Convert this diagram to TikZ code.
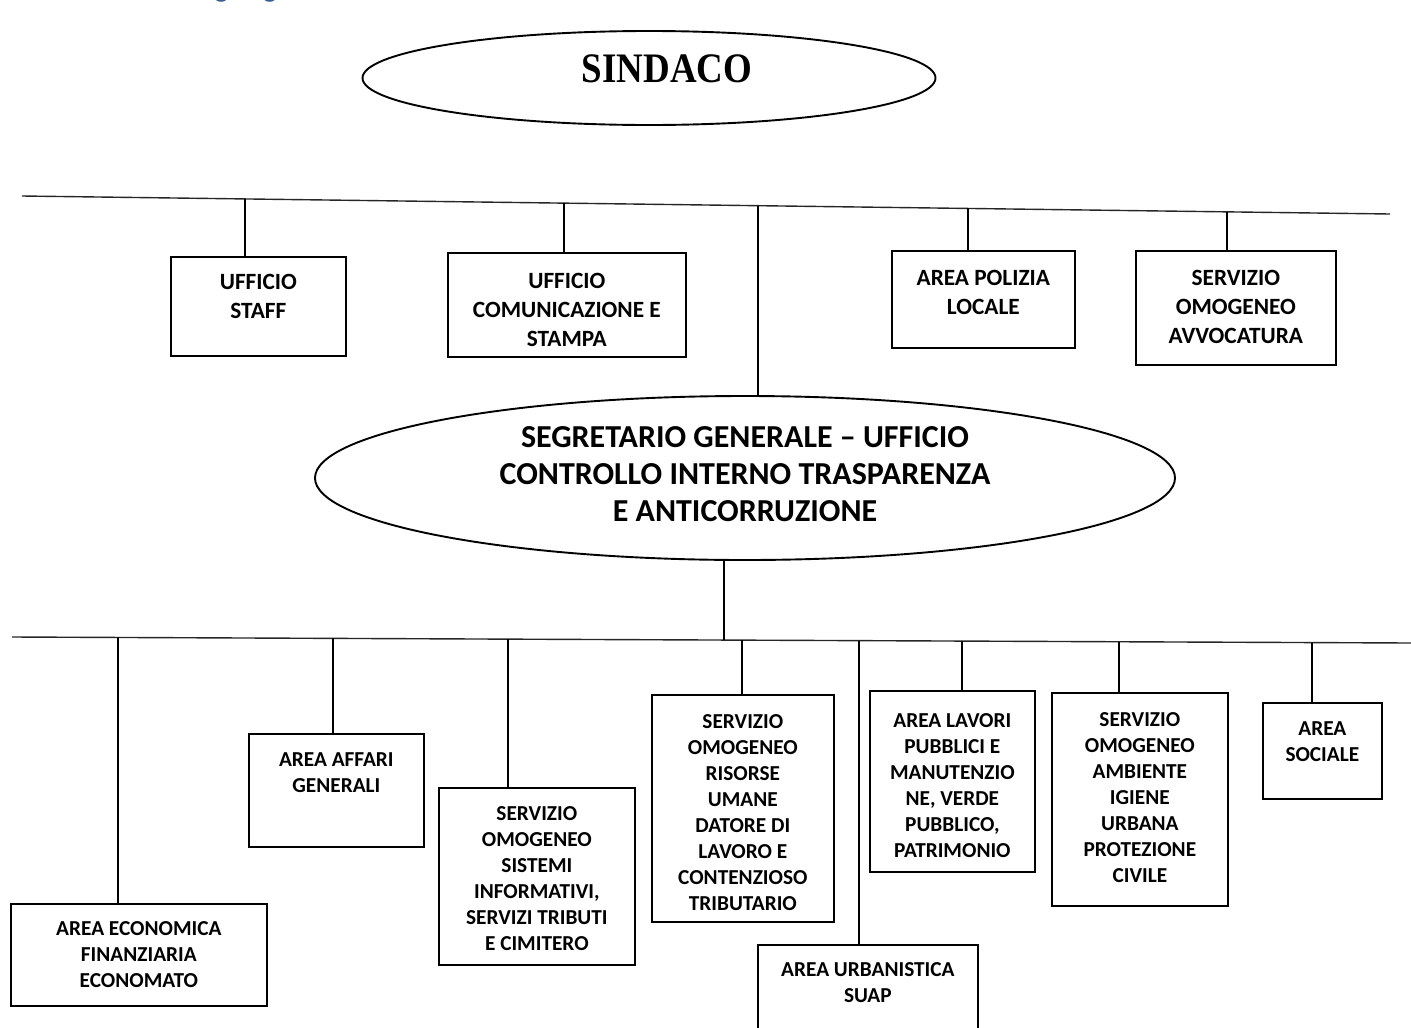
\documentclass[tikz,border=0pt]{standalone}
\usepackage{fontspec}
\setmainfont{Carlito}
\newfontfamily\timesfont[FakeStretch=0.88]{Liberation Serif}
\usetikzlibrary{shapes.geometric,calc}
\definecolor{headblue}{HTML}{365F91}
\newcommand{\bxt}[4]{\parbox[c][#2][t]{#1}{\centering\rule{0pt}{#3}#4}}
\tikzset{
  topbox/.style={draw, line width=1.7pt, inner sep=0pt, anchor=north west,
    font=\bfseries\fontsize{23.3}{29}\selectfont},
  lowbox/.style={draw, line width=1.7pt, inner sep=0pt, anchor=north west,
    font=\bfseries\fontsize{21.3}{26}\selectfont},
  ell/.style={draw, ellipse, line width=1.9pt, inner sep=0pt, align=center},
  hline/.style={line width=1.4pt, draw=black!85},
  conn/.style={line width=1.3pt},
}
\begin{document}
\begin{tikzpicture}[x=1pt,y=-1pt]
\useasboundingbox (0,0) rectangle (1411,1028);
% cut-off heading
\begin{scope}
\clip (0,0) rectangle (1411,1028);
\node[font=\bfseries\fontsize{28}{30}\selectfont, text=headblue, anchor=base west, inner sep=0pt] (heading) at (186,-2.5) {Organigramma};
\end{scope}

% ellipses
\node[ell, minimum width=573pt, minimum height=94pt, text depth=18pt,
  font=\timesfont\bfseries\fontsize{42}{44}\selectfont] (sindaco) at (649,78) {\hspace{36pt}SINDACO};
\node[ell, minimum width=860pt, minimum height=164pt, text depth=7pt,
  font=\bfseries\fontsize{32}{37}\selectfont] (seg) at (745,478)
  {SEGRETARIO GENERALE -- UFFICIO\\CONTROLLO INTERNO TRASPARENZA\\E ANTICORRUZIONE};

% top boxes
\node[topbox] (staff) at (170,256) {\bxt{175pt}{99pt}{33pt}{UFFICIO\\STAFF}};
\node[topbox] (comm) at (447,252) {\bxt{238pt}{104pt}{35.5pt}{UFFICIO\\COMUNICAZIONE E\\STAMPA}};
\node[topbox] (pol) at (891,250) {\bxt{183pt}{97pt}{34.5pt}{AREA POLIZIA\\LOCALE}};
\node[topbox] (avv) at (1135,250) {\bxt{200pt}{114pt}{34.5pt}{SERVIZIO\\OMOGENEO\\AVVOCATURA}};

% bottom boxes
\node[lowbox] (econ) at (10,903) {\bxt{256pt}{102pt}{32pt}{AREA ECONOMICA\\FINANZIARIA\\ECONOMATO}};
\node[lowbox] (aff) at (248,733) {\bxt{175pt}{113pt}{33pt}{AREA AFFARI\\GENERALI}};
\node[lowbox] (sis) at (438,787) {\bxt{196pt}{177pt}{32.5pt}{SERVIZIO\\OMOGENEO\\SISTEMI\\INFORMATIVI,\\SERVIZI TRIBUTI\\E CIMITERO}};
\node[lowbox] (ris) at (651,694) {\bxt{182pt}{227pt}{33.5pt}{SERVIZIO\\OMOGENEO\\RISORSE\\UMANE\\DATORE DI\\LAVORO E\\CONTENZIOSO\\TRIBUTARIO}};
\node[lowbox] (urb) at (757,944) {\bxt{220pt}{100pt}{32pt}{AREA URBANISTICA\\SUAP}};
\node[lowbox] (lav) at (869,690) {\bxt{165pt}{181pt}{37pt}{AREA LAVORI\\PUBBLICI E\\MANUTENZIO\\NE, VERDE\\PUBBLICO,\\PATRIMONIO}};
\node[lowbox] (amb) at (1051,692) {\bxt{176pt}{213pt}{34pt}{SERVIZIO\\OMOGENEO\\AMBIENTE\\IGIENE\\URBANA\\PROTEZIONE\\CIVILE}};
\node[lowbox] (soc) at (1262,702) {\bxt{119pt}{96pt}{33pt}{AREA\\SOCIALE}};

% horizontal lines
\coordinate (tl) at (22,196);
\coordinate (tr) at (1390,214);
\coordinate (bl) at (12,637);
\coordinate (br) at (1411,643);
\draw[hline] (tl) -- (tr);
\draw[hline] (bl) -- (br);

% attach points on top line
\coordinate (t1) at ($(tl)!{(245-22)/1368}!(tr)$);
\coordinate (t2) at ($(tl)!{(564-22)/1368}!(tr)$);
\coordinate (tm) at ($(tl)!{(758-22)/1368}!(tr)$);
\coordinate (t3) at ($(tl)!{(968-22)/1368}!(tr)$);
\coordinate (t4) at ($(tl)!{(1227-22)/1368}!(tr)$);
% attach points on bottom line
\coordinate (bm) at ($(bl)!{(724-12)/1399}!(br)$);
\coordinate (b1) at ($(bl)!{(118-12)/1399}!(br)$);
\coordinate (b2) at ($(bl)!{(333-12)/1399}!(br)$);
\coordinate (b3) at ($(bl)!{(508-12)/1399}!(br)$);
\coordinate (b4) at ($(bl)!{(742-12)/1399}!(br)$);
\coordinate (b5) at ($(bl)!{(859-12)/1399}!(br)$);
\coordinate (b6) at ($(bl)!{(962-12)/1399}!(br)$);
\coordinate (b7) at ($(bl)!{(1119-12)/1399}!(br)$);
\coordinate (b8) at ($(bl)!{(1312-12)/1399}!(br)$);

% connectors
\draw[conn] (t1) -- (t1 |- staff.north);
\draw[conn] (t2) -- (t2 |- comm.north);
\draw[conn] (tm) -- (tm |- seg.north);
\draw[conn] (t3) -- (t3 |- pol.north);
\draw[conn] (t4) -- (t4 |- avv.north);
\draw[conn] (bm |- seg.south) -- (bm);
\draw[conn] (b1) -- (b1 |- econ.north);
\draw[conn] (b2) -- (b2 |- aff.north);
\draw[conn] (b3) -- (b3 |- sis.north);
\draw[conn] (b4) -- (b4 |- ris.north);
\draw[conn] (b5) -- (b5 |- urb.north);
\draw[conn] (b6) -- (b6 |- lav.north);
\draw[conn] (b7) -- (b7 |- amb.north);
\draw[conn] (b8) -- (b8 |- soc.north);
\end{tikzpicture}
\end{document}
